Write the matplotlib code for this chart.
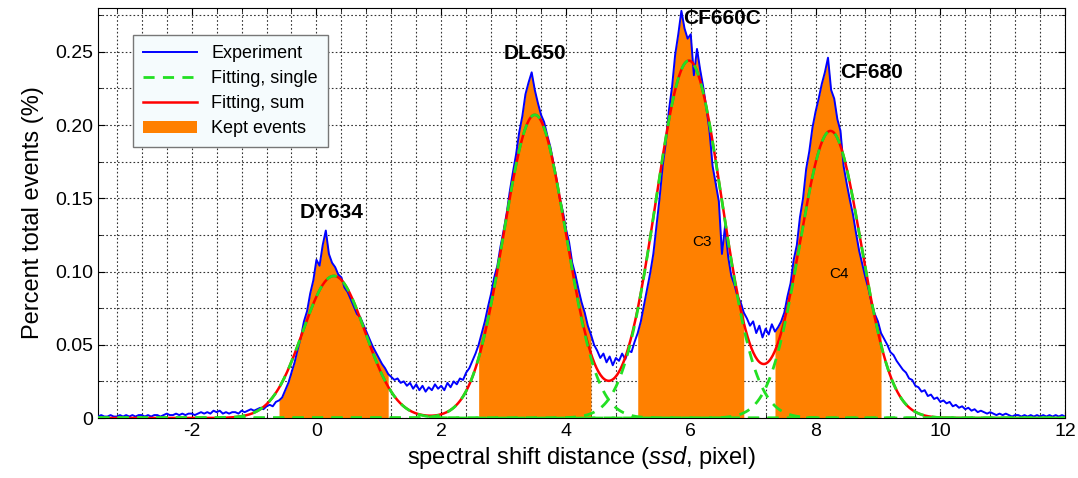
import numpy as np
import matplotlib
matplotlib.use("Agg")
import matplotlib.pyplot as plt
from matplotlib.ticker import MultipleLocator, FuncFormatter

plt.rcParams['font.family'] = ['Liberation Sans', 'DejaVu Sans']
plt.rcParams['mathtext.fontset'] = 'custom'
plt.rcParams['mathtext.it'] = 'Liberation Sans:italic'
plt.rcParams['mathtext.rm'] = 'Liberation Sans'
plt.rcParams['axes.unicode_minus'] = False

# experiment histogram, sampled every 0.05 pixel from -3.5 to 12
x_start, x_stop = -3.5, 12.0
experiment = [
    # -3.50 .. -1.55
    0.001, 0.002, 0.001, 0.001, 0.002, 0.001, 0.001, 0.002, 0.001, 0.002,
    0.001, 0.002, 0.001, 0.002, 0.002, 0.001, 0.002, 0.001, 0.002, 0.002,
    0.001, 0.002, 0.003, 0.002, 0.002, 0.003, 0.002, 0.003, 0.002, 0.003,
    0.003, 0.002, 0.003, 0.004, 0.003, 0.004, 0.003, 0.005, 0.004, 0.005,
    # -1.50 .. -0.55
    0.003, 0.004, 0.003, 0.004, 0.004, 0.003, 0.005, 0.004, 0.005, 0.006,
    0.005, 0.006, 0.007, 0.006, 0.008, 0.009, 0.008, 0.011, 0.012, 0.014,
    # -0.50 .. 1.50
    0.019, 0.024, 0.031, 0.038, 0.047, 0.055, 0.066, 0.073, 0.085, 0.094,
    0.108, 0.104, 0.118, 0.128, 0.112, 0.106, 0.103, 0.098, 0.096, 0.089,
    0.086, 0.081, 0.076, 0.071, 0.069, 0.064, 0.059, 0.054, 0.049, 0.045,
    0.041, 0.037, 0.034, 0.030, 0.028, 0.026, 0.027, 0.024, 0.025, 0.022,
    0.024,
    # 1.55 .. 2.50
    0.020, 0.023, 0.019, 0.022, 0.018, 0.021, 0.019, 0.023, 0.020, 0.022,
    0.019, 0.024, 0.021, 0.025, 0.023, 0.027, 0.026, 0.031, 0.034, 0.039,
    # 2.55 .. 4.45
    0.044, 0.050, 0.058, 0.066, 0.076, 0.085, 0.096, 0.104, 0.117, 0.128,
    0.140, 0.155, 0.168, 0.180, 0.195, 0.206, 0.221, 0.229, 0.236, 0.224,
    0.215, 0.207, 0.202, 0.193, 0.185, 0.174, 0.163, 0.150, 0.141, 0.129,
    0.120, 0.106, 0.098, 0.088, 0.079, 0.072, 0.063, 0.057, 0.050,
    # 4.50 .. 5.05
    0.046, 0.041, 0.044, 0.038, 0.042, 0.036, 0.041, 0.039, 0.044, 0.040,
    0.046, 0.045,
    # 5.10 .. 6.85
    0.052, 0.058, 0.066, 0.077, 0.088, 0.099, 0.112, 0.131, 0.150, 0.172,
    0.188, 0.210, 0.226, 0.248, 0.262, 0.278, 0.266, 0.259, 0.262, 0.234,
    0.252, 0.238, 0.226, 0.212, 0.196, 0.172, 0.160, 0.148, 0.112, 0.131,
    0.110, 0.097, 0.091, 0.083, 0.079, 0.072,
    # 6.90 .. 7.40
    0.068, 0.063, 0.066, 0.058, 0.063, 0.055, 0.061, 0.057, 0.064, 0.059,
    0.062,
    # 7.45 .. 9.10
    0.066, 0.072, 0.083, 0.092, 0.108, 0.118, 0.137, 0.150, 0.170, 0.182,
    0.198, 0.209, 0.218, 0.228, 0.236, 0.246, 0.224, 0.218, 0.204, 0.196,
    0.172, 0.160, 0.149, 0.139, 0.126, 0.114, 0.105, 0.096, 0.088, 0.078,
    0.071, 0.066, 0.058, 0.054,
    # 9.15 .. 12.00
    0.050, 0.045, 0.043, 0.039, 0.036, 0.033, 0.031, 0.027, 0.026, 0.022,
    0.021, 0.018, 0.019, 0.015, 0.016, 0.013, 0.014, 0.011, 0.012, 0.010,
    0.011, 0.008, 0.009, 0.007, 0.008, 0.006, 0.007, 0.005, 0.006, 0.004,
    0.005, 0.004, 0.003, 0.004, 0.003, 0.002, 0.003, 0.002, 0.003, 0.002,
    0.001, 0.002, 0.002, 0.001, 0.002, 0.001, 0.002, 0.001, 0.002, 0.001,
    0.002, 0.001, 0.002, 0.001, 0.002, 0.001, 0.002, 0.001,
]

# gaussian fit parameters for the four dyes
dyes = ['DY634', 'DL650', 'CF660C', 'CF680']
fit_center = [0.28, 3.50, 5.97, 8.24]
fit_amp = [0.097, 0.207, 0.244, 0.196]
fit_sigma = [0.50, 0.50, 0.53, 0.49]

# kept-event windows (pixel)
kept_lo = [-0.60, 2.60, 5.15, 7.35]
kept_hi = [1.15, 4.40, 6.85, 9.05]

x = np.linspace(x_start, x_stop, len(experiment))
y = np.array(experiment)

xf = np.linspace(x_start, x_stop, 1000)
singles = [a * np.exp(-(xf - c) ** 2 / (2 * s ** 2))
           for c, a, s in zip(fit_center, fit_amp, fit_sigma)]
total = np.sum(singles, axis=0)

fig = plt.figure(figsize=(10.78, 4.78), dpi=100)
ax = fig.add_axes([0.091, 0.1255, 0.897, 0.858])

for i, (lo, hi) in enumerate(zip(kept_lo, kept_hi)):
    mask = (x >= lo - 1e-9) & (x <= hi + 1e-9)
    ax.fill_between(x[mask], 0, y[mask], color='#ff8000', lw=0,
                    label='Kept events' if i == 0 else None, zorder=2)

ax.plot(x, y, color='#0000ff', lw=1.4, label='Experiment', zorder=3)
ax.plot(xf, total, color='#ff0000', lw=1.8, label='Fitting, sum', zorder=4)
for i, s in enumerate(singles):
    ax.plot(xf, s, color='#22e022', lw=2.0, ls=(0, (4, 3)),
            label='Fitting, single' if i == 0 else None, zorder=5)

ax.set_xlim(x_start, x_stop)
ax.set_ylim(0, 0.28)
ax.xaxis.set_major_locator(MultipleLocator(2))
ax.xaxis.set_minor_locator(MultipleLocator(0.4))
ax.yaxis.set_major_locator(MultipleLocator(0.05))
ax.yaxis.set_minor_locator(MultipleLocator(0.025))
ax.yaxis.set_major_formatter(FuncFormatter(lambda v, p: '0' if abs(v) < 1e-9 else f'{v:.2f}'))
ax.tick_params(which='both', direction='in', top=True, right=True, labelsize=14)
ax.tick_params(which='major', length=5)
ax.tick_params(which='minor', length=3)
ax.grid(True, which='both', color='#333333', ls=(0, (1.5, 2)), lw=0.8)
ax.set_axisbelow(True)

ax.set_xlabel('spectral shift distance ($\\it{ssd}$, pixel)', fontsize=17, labelpad=3)
ax.set_ylabel('Percent total events (%)', fontsize=17, labelpad=8)

label_x = [0.24, 3.5, 6.5, 8.9]
label_y = [0.14, 0.249, 0.273, 0.236]
for name, lx, ly in zip(dyes, label_x, label_y):
    ax.text(lx, ly, name, fontsize=15, fontweight='bold', ha='center', va='center', zorder=6)
ax.text(6.18, 0.12, 'C3', fontsize=11, ha='center', va='center', zorder=6)
ax.text(8.37, 0.098, 'C4', fontsize=11, ha='center', va='center', zorder=6)

handles, labels = ax.get_legend_handles_labels()
order = ['Experiment', 'Fitting, single', 'Fitting, sum', 'Kept events']
hmap = dict(zip(labels, handles))
leg = ax.legend([hmap[k] for k in order], order, loc='upper left',
                bbox_to_anchor=(0.036, 0.934), borderaxespad=0, fontsize=13,
                fancybox=False, framealpha=1, facecolor='#f5fbfd',
                edgecolor='#777777', handlelength=3.0, labelspacing=0.45,
                borderpad=0.55)
leg.get_frame().set_linewidth(1.0)

fig.savefig('out.png', dpi=100)
